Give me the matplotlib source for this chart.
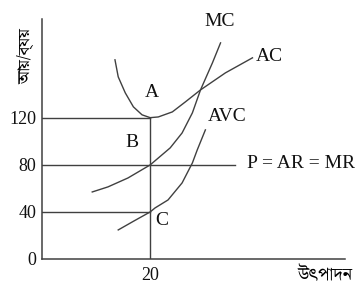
import matplotlib
matplotlib.use("Agg")
import matplotlib.pyplot as plt

# values
ac_x = [13.5, 14.1, 15.4, 16.9, 18.5, 20.0, 21.5, 24.1, 26.5, 29.3, 33.9, 38.9]
ac_y = [169.4, 154.9, 141.3, 129.4, 122.6, 120.2, 120.8, 125.1, 133.6, 143.8, 158.3, 171.1]
mc_x = [9.3, 12.2, 15.9, 20.0, 23.7, 25.9, 27.8, 29.3, 31.5, 33.0]
mc_y = [57.0, 61.3, 68.9, 80.0, 94.5, 107.2, 124.3, 143.8, 166.8, 183.8]
avc_x = [14.1, 17.0, 20.0, 20.9, 23.3, 25.9, 27.8, 28.7, 30.2]
avc_y = [24.7, 32.3, 40.0, 43.4, 50.2, 64.7, 81.7, 92.8, 109.8]
q_eq = 20
price = 80
ac_level = 120
avc_level = 40
yticks = [0, 40, 80, 120]
xticks = [20]
ylab = "\u0986\u09df/\u09ac\u09cd\u09af\u09df"   # আয়/ব্যয়
xlab = "\u0989\u09ce\u09aa\u09be\u09a6\u09a8"    # উৎপাদন

lat = ["Liberation Serif", "DejaVu Serif"]
bn = ["Noto Serif Bengali", "Liberation Serif"]
col = "#404040"
lw = 1.0

fig = plt.figure(figsize=(3.55, 2.9), dpi=100)
ax = fig.add_axes([0.118, 0.107, 0.854, 0.827])

ax.plot(ac_x, ac_y, color=col, lw=lw)
ax.plot(mc_x, mc_y, color=col, lw=lw)
ax.plot(avc_x, avc_y, color=col, lw=lw)

ax.plot([0, q_eq], [ac_level, ac_level], color=col, lw=lw)
ax.plot([0, q_eq], [avc_level, avc_level], color=col, lw=lw)
ax.plot([0, 35.7], [price, price], color=col, lw=lw)
ax.plot([q_eq, q_eq], [0, ac_level], color=col, lw=lw)

ax.set_xlim(0, 56)
ax.set_ylim(0, 204)
for s in ["top", "right"]:
    ax.spines[s].set_visible(False)
for s in ["left", "bottom"]:
    ax.spines[s].set_color(col)
    ax.spines[s].set_linewidth(1.1)

ax.set_xticks(xticks)
ax.set_yticks(yticks)
ax.tick_params(axis="y", length=0, pad=4, labelsize=13)
ax.tick_params(axis="x", length=0, pad=6, labelsize=13)
for t in ax.get_xticklabels() + ax.get_yticklabels():
    t.set_family(lat)
    t.set_color("#111111")

tk = dict(fontsize=14, family=lat, color="#111111")
ax.text(20.4, 142, "A", ha="center", va="center", **tk)
ax.text(16.7, 99, "B", ha="center", va="center", **tk)
ax.text(22.2, 33, "C", ha="center", va="center", **tk)
ax.text(32.8, 202, "MC", ha="center", va="center", **tk)
ax.text(39.6, 172, "AC", ha="left", va="center", **tk)
ax.text(30.6, 121, "AVC", ha="left", va="center", **tk)
ax.text(37.9, 81, "P = AR = MR", ha="left", va="center", **tk)

fig.text(0.072, 0.805, ylab, rotation=90, ha="center", va="center",
         fontsize=12, family=bn)
fig.text(0.992, 0.05, xlab, ha="right", va="center", fontsize=13, family=bn)

fig.savefig("out.png", dpi=100)
